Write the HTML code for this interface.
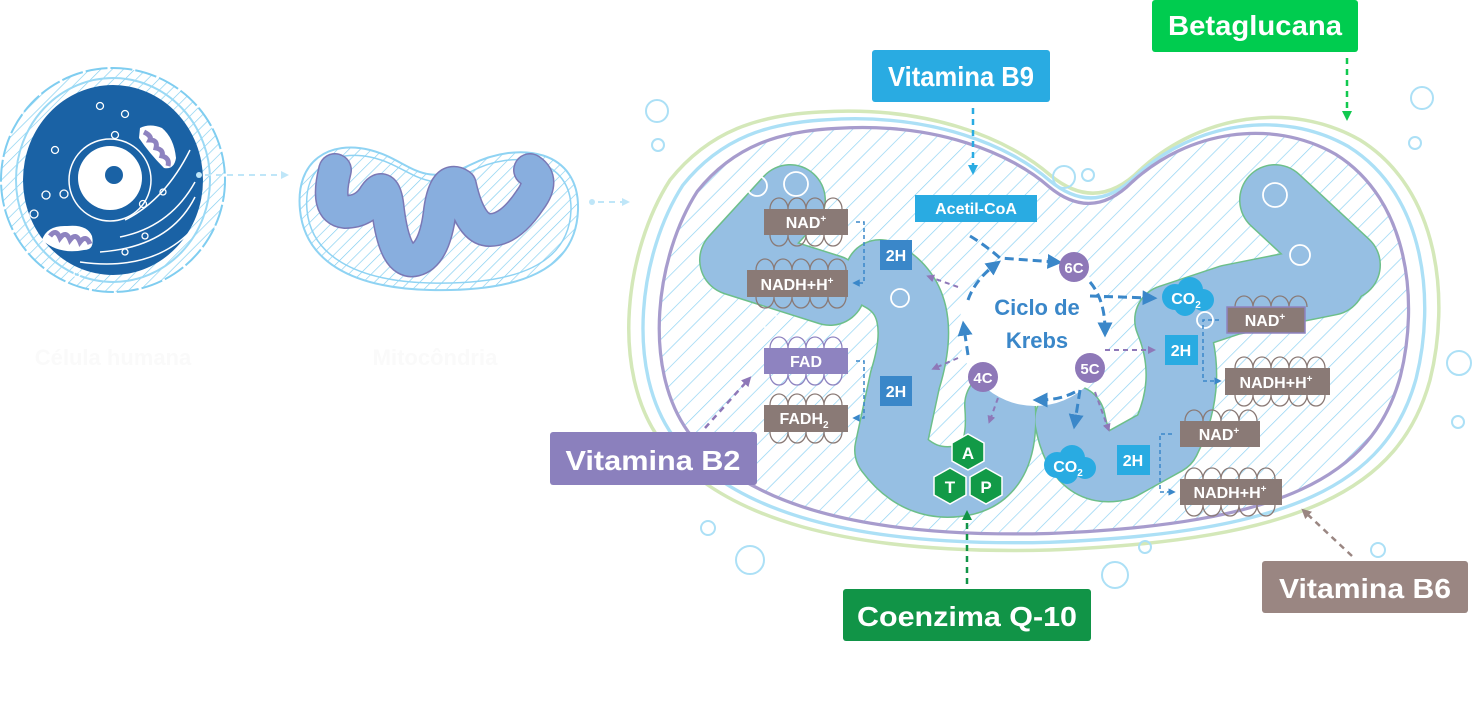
<!DOCTYPE html>
<html><head><meta charset="utf-8"><style>
html,body{margin:0;padding:0;background:#fff;width:1473px;height:705px;overflow:hidden}
svg{display:block}
text{font-family:"Liberation Sans",sans-serif;font-weight:bold}
</style></head><body>
<svg width="1473" height="705" viewBox="0 0 1473 705" xmlns="http://www.w3.org/2000/svg">
<defs>
<pattern id="h" width="14" height="14" patternUnits="userSpaceOnUse" patternTransform="rotate(45)">
<rect width="14" height="14" fill="#fff"/><line x1="0" y1="0" x2="0" y2="14" stroke="#8fd3f3" stroke-width="1.5"/></pattern>
<pattern id="h2" width="8" height="8" patternUnits="userSpaceOnUse" patternTransform="rotate(45)">
<rect width="8" height="8" fill="#fff"/><line x1="0" y1="0" x2="0" y2="8" stroke="#7fcdf0" stroke-width="1.3"/></pattern>
<marker id="ab" viewBox="0 0 10 10" refX="5" refY="5" markerWidth="5" markerHeight="5" orient="auto"><path d="M0,0L10,5L0,10z" fill="#3a87c9"/></marker>
<marker id="ap" viewBox="0 0 10 10" refX="5" refY="5" markerWidth="4" markerHeight="4" orient="auto"><path d="M0,0L10,5L0,10z" fill="#8e78b8"/></marker>
<marker id="ag" viewBox="0 0 10 10" refX="5" refY="5" markerWidth="4" markerHeight="4" orient="auto"><path d="M0,0L10,5L0,10z" fill="#11c94f"/></marker>
<marker id="ad" viewBox="0 0 10 10" refX="5" refY="5" markerWidth="4" markerHeight="4" orient="auto"><path d="M0,0L10,5L0,10z" fill="#119447"/></marker>
<marker id="at" viewBox="0 0 10 10" refX="5" refY="5" markerWidth="4" markerHeight="4" orient="auto"><path d="M0,0L10,5L0,10z" fill="#9a8682"/></marker>
<marker id="al" viewBox="0 0 10 10" refX="5" refY="5" markerWidth="4" markerHeight="4" orient="auto"><path d="M0,0L10,5L0,10z" fill="#29abe2"/></marker>
<marker id="ac" viewBox="0 0 10 10" refX="5" refY="5" markerWidth="4" markerHeight="4" orient="auto"><path d="M0,0L10,5L0,10z" fill="#bfe6f8"/></marker>
<path id="mito" d="M820,112 C930,105 1010,140 1050,175 C1080,200 1110,200 1140,170 C1200,115 1290,100 1360,140 C1440,190 1450,300 1430,380 C1400,490 1300,540 1050,550 C850,555 720,520 660,440 C610,370 625,250 670,180 C710,130 760,115 820,112 Z"/>
</defs>

<!-- Left cell -->
<circle cx="113" cy="180" r="112" fill="url(#h2)" stroke="#7fcdf0" stroke-width="2" stroke-dasharray="22,3"/>
<ellipse cx="113" cy="180" rx="97" ry="102" fill="none" stroke="#9ad9f5" stroke-width="2"/>
<ellipse cx="113" cy="180" rx="90" ry="95" fill="#1a62a5"/>
<circle cx="110" cy="180" r="41" fill="none" stroke="#fff" stroke-width="1.5"/>
<circle cx="110" cy="178" r="32" fill="#fff"/>
<circle cx="114" cy="175" r="9" fill="#1a62a5"/>
<path d="M140,128 q10,-5 22,0 q12,10 14,30 q-2,12 -12,10 q-15,-15 -25,-30z" fill="#fff"/>
<path d="M144,132 q8,4 6,8 q8,0 6,8 q8,2 6,8 q8,2 6,10" fill="none" stroke="#8e83c0" stroke-width="5"/>
<path d="M42,240 q5,-15 25,-14 q20,-2 25,10 q3,14 -8,14 q-25,5 -42,-10z" fill="#fff"/>
<path d="M50,236 q6,-8 10,2 q6,-8 10,2 q6,-8 10,2 q6,-8 10,2" fill="none" stroke="#8e83c0" stroke-width="5"/>
<path d="M125,220 q40,-20 65,-70 M120,237 q50,-10 75,-55 M100,252 q70,-5 95,-55 M80,262 q70,10 110,-30" fill="none" stroke="#fff" stroke-width="1.5"/>
<g fill="none" stroke="#fff" stroke-width="1.3"><circle cx="100" cy="106" r="3.5"/><circle cx="115" cy="135" r="3.5"/><circle cx="125" cy="114" r="3.5"/><circle cx="55" cy="150" r="3.5"/><circle cx="46" cy="195" r="4"/><circle cx="64" cy="194" r="4"/><circle cx="34" cy="214" r="4"/><circle cx="143" cy="204" r="3.5"/><circle cx="145" cy="236" r="3"/><circle cx="125" cy="252" r="3"/><circle cx="77" cy="274" r="3"/><circle cx="163" cy="192" r="3"/></g>
<circle cx="199" cy="175" r="3" fill="#bfe6f8"/>
<line x1="205" y1="175" x2="285" y2="175" stroke="#bfe6f8" stroke-width="2" stroke-dasharray="6,5" marker-end="url(#ac)"/>
<text x="113" y="365" font-size="22" fill="#fafafa" text-anchor="middle" font-weight="normal">Célula humana</text>

<!-- small mito -->
<path d="M300,210 C295,160 330,140 370,150 C410,160 420,190 470,165 C520,140 580,150 578,210 C576,270 520,292 430,290 C350,288 305,260 300,210Z" fill="url(#h2)" stroke="#8fd3f3" stroke-width="2"/>
<path d="M307,210 C303,165 335,150 370,157 C410,165 425,198 470,172 C515,148 572,158 571,210 C569,265 515,285 430,283 C355,281 311,255 307,210Z" fill="none" stroke="#8fd3f3" stroke-width="1.5"/>
<g fill="none" stroke-linecap="round" stroke-linejoin="round">
<path id="cr" d="M335,170 Q325,210 345,212 Q365,212 375,195 Q385,180 388,210 Q395,265 415,260 Q435,255 440,210 Q445,175 460,185 Q470,230 490,230 Q510,230 530,200 Q545,180 530,170" stroke="#7a78b5" stroke-width="34"/>
<path d="M335,170 Q325,210 345,212 Q365,212 375,195 Q385,180 388,210 Q395,265 415,260 Q435,255 440,210 Q445,175 460,185 Q470,230 490,230 Q510,230 530,200 Q545,180 530,170" stroke="#88aede" stroke-width="31"/>
</g>
<text x="435" y="365" font-size="22" fill="#fafafa" text-anchor="middle" font-weight="normal">Mitocôndria</text>
<circle cx="592" cy="202" r="3" fill="#bfe6f8"/>
<line x1="598" y1="202" x2="626" y2="202" stroke="#bfe6f8" stroke-width="2" stroke-dasharray="6,5" marker-end="url(#ac)"/>

<!-- big mito membranes -->
<use href="#mito" fill="none" stroke="#d4e8b9" stroke-width="3.5"/>
<use href="#mito" fill="none" stroke="#ace0f6" stroke-width="3.5" transform="translate(1035 330) scale(0.965) translate(-1035 -330)"/>
<use href="#mito" fill="url(#h)" stroke="#a79ccd" stroke-width="3.5" transform="translate(1035 330) scale(0.925) translate(-1035 -330)"/>

<!-- cristae -->
<g fill="none" stroke-linecap="round" stroke-linejoin="round">
<g stroke="#6dbf8a" stroke-width="72">
<path d="M790,200 L735,260 L830,290"/>
<path d="M880,275 Q930,300 905,380 L890,450 Q920,490 965,480 Q1005,470 1000,405"/>
<path d="M1070,420 Q1080,475 1120,465 L1165,440 Q1195,380 1170,320 L1230,300 L1330,280"/>
<path d="M1275,200 L1345,265"/>
</g>
<g stroke="#96bfe3" stroke-width="69">
<path d="M790,200 L735,260 L830,290"/>
<path d="M880,275 Q930,300 905,380 L890,450 Q920,490 965,480 Q1005,470 1000,405"/>
<path d="M1070,420 Q1080,475 1120,465 L1165,440 Q1195,380 1170,320 L1230,300 L1330,280"/>
<path d="M1275,200 L1345,265"/>
</g>
</g>
<g fill="none" stroke="#fff" stroke-width="1.8"><circle cx="757" cy="186" r="10"/><circle cx="796" cy="184" r="12"/><circle cx="900" cy="298" r="9"/><circle cx="1275" cy="195" r="12"/><circle cx="1300" cy="255" r="10"/><circle cx="770" cy="321" r="8"/><circle cx="1205" cy="320" r="8"/></g>
<g fill="none" stroke="#ace0f6" stroke-width="2"><circle cx="657" cy="111" r="11"/><circle cx="658" cy="145" r="6"/><circle cx="1064" cy="177" r="11"/><circle cx="1088" cy="175" r="6"/><circle cx="1422" cy="98" r="11"/><circle cx="1415" cy="143" r="6"/><circle cx="1459" cy="363" r="12"/><circle cx="1458" cy="422" r="6"/><circle cx="750" cy="560" r="14"/><circle cx="708" cy="528" r="7"/><circle cx="1115" cy="575" r="13"/><circle cx="1145" cy="547" r="6"/><circle cx="1378" cy="550" r="7"/></g>

<!-- Krebs circle -->
<circle cx="1035" cy="330" r="76" fill="#fff"/>
<g stroke="#3a87c9" stroke-width="3" stroke-dasharray="9,5" fill="none">
<path d="M970,236 Q985,245 1000,258 L1055,262" marker-end="url(#ab)"/>
<path d="M1090,282 Q1105,300 1105,330" marker-end="url(#ab)"/>
<path d="M1090,296 L1150,298" marker-end="url(#ab)"/>
<path d="M1075,392 Q1060,400 1040,400" marker-end="url(#ab)"/>
<path d="M968,355 L964,328" marker-end="url(#ab)"/>
<path d="M968,300 Q975,280 995,265" marker-end="url(#ab)"/>
<path d="M1080,390 L1075,422" marker-end="url(#ab)"/>
</g>
<g stroke="#8e78b8" stroke-width="2" stroke-dasharray="5,4" fill="none">
<path d="M958,287 L930,277" marker-end="url(#ap)"/>
<path d="M958,358 L935,368" marker-end="url(#ap)"/>
<path d="M998,398 L990,420" marker-end="url(#ap)"/>
<path d="M1105,350 L1152,350" marker-end="url(#ap)"/>
<path d="M1095,392 L1108,428" marker-end="url(#ap)"/>
</g>
<text x="1037" y="315" font-size="22" fill="#3a87c9" text-anchor="middle">Ciclo de</text>
<text x="1037" y="348" font-size="22" fill="#3a87c9" text-anchor="middle">Krebs</text>
<g fill="#8e78b8"><circle cx="1074" cy="267" r="15"/><circle cx="1090" cy="368" r="15"/><circle cx="983" cy="377" r="15"/></g>
<g fill="#fff" font-size="15" text-anchor="middle"><text x="1074" y="273">6C</text><text x="1090" y="374">5C</text><text x="983" y="383">4C</text></g>

<!-- CO2 clouds -->
<g fill="#29abe2"><circle cx="1175" cy="297" r="13"/><circle cx="1190" cy="290" r="13"/><circle cx="1203" cy="300" r="11"/><circle cx="1185" cy="305" r="11"/>
<circle cx="1057" cy="465" r="13"/><circle cx="1072" cy="458" r="13"/><circle cx="1085" cy="468" r="11"/><circle cx="1067" cy="473" r="11"/></g>
<g fill="#fff" font-size="16" text-anchor="middle"><text x="1186" y="304">CO<tspan font-size="10" dy="4">2</tspan></text><text x="1068" y="472">CO<tspan font-size="10" dy="4">2</tspan></text></g>

<!-- ATP -->
<g fill="#129a47" stroke="#fff" stroke-width="1.5">
<polygon points="968,434 984,443 984,461 968,470 952,461 952,443"/>
<polygon points="950,468 966,477 966,495 950,504 934,495 934,477"/>
<polygon points="986,468 1002,477 1002,495 986,504 970,495 970,477"/>
</g>
<g fill="#fff" font-size="17" text-anchor="middle"><text x="968" y="459">A</text><text x="950" y="493">T</text><text x="986" y="493">P</text></g>

<!-- carrier rings -->
<g fill="none" stroke="#8a7a76" stroke-width="1.3">
<path d="M770,209 a9,11 0 0 1 18,0 a9,11 0 0 1 18,0 a9,11 0 0 1 18,0 a9,11 0 0 1 18,0"/>
<path d="M770,235 a9,11 0 0 0 18,0 a9,11 0 0 0 18,0 a9,11 0 0 0 18,0 a9,11 0 0 0 18,0"/>
<path d="M756,270 a9,11 0 0 1 18,0 a9,11 0 0 1 18,0 a9,11 0 0 1 18,0 a9,11 0 0 1 18,0 a9,11 0 0 1 18,0"/>
<path d="M756,297 a9,11 0 0 0 18,0 a9,11 0 0 0 18,0 a9,11 0 0 0 18,0 a9,11 0 0 0 18,0 a9,11 0 0 0 18,0"/>
<path d="M770,405 a9,11 0 0 1 18,0 a9,11 0 0 1 18,0 a9,11 0 0 1 18,0 a9,11 0 0 1 18,0"/>
<path d="M770,432 a9,11 0 0 0 18,0 a9,11 0 0 0 18,0 a9,11 0 0 0 18,0 a9,11 0 0 0 18,0"/>
<path d="M1235,307 a9,11 0 0 1 18,0 a9,11 0 0 1 18,0 a9,11 0 0 1 18,0 a9,11 0 0 1 18,0"/>
<path d="M1235,368 a9,11 0 0 1 18,0 a9,11 0 0 1 18,0 a9,11 0 0 1 18,0 a9,11 0 0 1 18,0 a9,11 0 0 1 18,0"/>
<path d="M1235,395 a9,11 0 0 0 18,0 a9,11 0 0 0 18,0 a9,11 0 0 0 18,0 a9,11 0 0 0 18,0 a9,11 0 0 0 18,0"/>
<path d="M1185,421 a9,11 0 0 1 18,0 a9,11 0 0 1 18,0 a9,11 0 0 1 18,0 a9,11 0 0 1 18,0"/>
<path d="M1185,479 a9,11 0 0 1 18,0 a9,11 0 0 1 18,0 a9,11 0 0 1 18,0 a9,11 0 0 1 18,0 a9,11 0 0 1 18,0"/>
<path d="M1185,505 a9,11 0 0 0 18,0 a9,11 0 0 0 18,0 a9,11 0 0 0 18,0 a9,11 0 0 0 18,0 a9,11 0 0 0 18,0"/>
</g>
<g fill="none" stroke="#8e83c0" stroke-width="1.3">
<path d="M770,348 a9,11 0 0 1 18,0 a9,11 0 0 1 18,0 a9,11 0 0 1 18,0 a9,11 0 0 1 18,0"/>
<path d="M770,374 a9,11 0 0 0 18,0 a9,11 0 0 0 18,0 a9,11 0 0 0 18,0 a9,11 0 0 0 18,0"/>
</g>

<!-- small boxes -->
<g fill="#8a7a76">
<rect x="764" y="209" width="84" height="26"/><rect x="747" y="270" width="101" height="27"/>
<rect x="764" y="405" width="84" height="27"/>
<rect x="1227" y="307" width="78" height="26" stroke="#8e83c0" stroke-width="1.5"/>
<rect x="1225" y="368" width="105" height="27"/><rect x="1180" y="421" width="80" height="26"/><rect x="1180" y="479" width="102" height="26"/>
</g>
<rect x="764" y="348" width="84" height="26" fill="#8e83c0"/>
<rect x="915" y="195" width="122" height="27" fill="#29abe2"/>
<g fill="#3a87c9"><rect x="880" y="240" width="32" height="30"/><rect x="880" y="376" width="32" height="30"/></g>
<g fill="#29abe2"><rect x="1165" y="335" width="33" height="30"/><rect x="1117" y="445" width="33" height="30"/></g>
<g fill="#fff" font-size="16" text-anchor="middle">
<text x="806" y="228">NAD<tspan font-size="10" dy="-6">+</tspan></text>
<text x="797" y="290">NADH+H<tspan font-size="10" dy="-6">+</tspan></text>
<text x="806" y="367">FAD</text>
<text x="804" y="424">FADH<tspan font-size="10" dy="4">2</tspan></text>
<text x="1265" y="326">NAD<tspan font-size="10" dy="-6">+</tspan></text>
<text x="1276" y="388">NADH+H<tspan font-size="10" dy="-6">+</tspan></text>
<text x="1219" y="440">NAD<tspan font-size="10" dy="-6">+</tspan></text>
<text x="1230" y="498">NADH+H<tspan font-size="10" dy="-6">+</tspan></text>
<text x="976" y="214">Acetil-CoA</text>
<text x="896" y="261">2H</text><text x="896" y="397">2H</text><text x="1181" y="356">2H</text><text x="1133" y="466">2H</text>
</g>
<g stroke="#3a87c9" stroke-width="1.5" stroke-dasharray="4,3" fill="none">
<path d="M856,222 L864,222 L864,283 L856,283" marker-end="url(#ab)"/>
<path d="M856,361 L864,361 L864,418 L856,418" marker-end="url(#ab)"/>
<path d="M1219,320 L1203,320 L1203,381 L1218,381" marker-end="url(#ab)"/>
<path d="M1172,434 L1160,434 L1160,492 L1172,492" marker-end="url(#ab)"/>
</g>

<!-- big labels -->
<rect x="872" y="50" width="178" height="52" rx="3" fill="#29abe2"/>
<text x="961" y="86" font-size="28" fill="#fff" text-anchor="middle" textLength="146" lengthAdjust="spacingAndGlyphs">Vitamina B9</text>
<line x1="973" y1="108" x2="973" y2="170" stroke="#29abe2" stroke-width="2.5" stroke-dasharray="6,5" marker-end="url(#al)"/>
<rect x="1152" y="0" width="206" height="52" rx="3" fill="#00cc4f"/>
<text x="1255" y="35" font-size="28" fill="#fff" text-anchor="middle" textLength="174" lengthAdjust="spacingAndGlyphs">Betaglucana</text>
<line x1="1347" y1="58" x2="1347" y2="116" stroke="#11c94f" stroke-width="2.5" stroke-dasharray="6,5" marker-end="url(#ag)"/>
<rect x="550" y="432" width="207" height="53" rx="3" fill="#8b80bd"/>
<text x="653" y="470" font-size="28" fill="#fff" text-anchor="middle" textLength="175" lengthAdjust="spacingAndGlyphs">Vitamina B2</text>
<line x1="705" y1="428" x2="748" y2="380" stroke="#8e78b8" stroke-width="2.5" stroke-dasharray="6,5" marker-end="url(#ap)"/>
<rect x="843" y="589" width="248" height="52" rx="3" fill="#119447"/>
<text x="967" y="626" font-size="28" fill="#fff" text-anchor="middle" textLength="220" lengthAdjust="spacingAndGlyphs">Coenzima Q-10</text>
<line x1="967" y1="584" x2="967" y2="515" stroke="#119447" stroke-width="2.5" stroke-dasharray="6,5" marker-end="url(#ad)"/>
<rect x="1262" y="561" width="206" height="52" rx="3" fill="#9a8682"/>
<text x="1365" y="598" font-size="28" fill="#fff" text-anchor="middle" textLength="172" lengthAdjust="spacingAndGlyphs">Vitamina B6</text>
<line x1="1352" y1="556" x2="1305" y2="512" stroke="#9a8682" stroke-width="2.5" stroke-dasharray="6,5" marker-end="url(#at)"/>
</svg>
</body></html>
